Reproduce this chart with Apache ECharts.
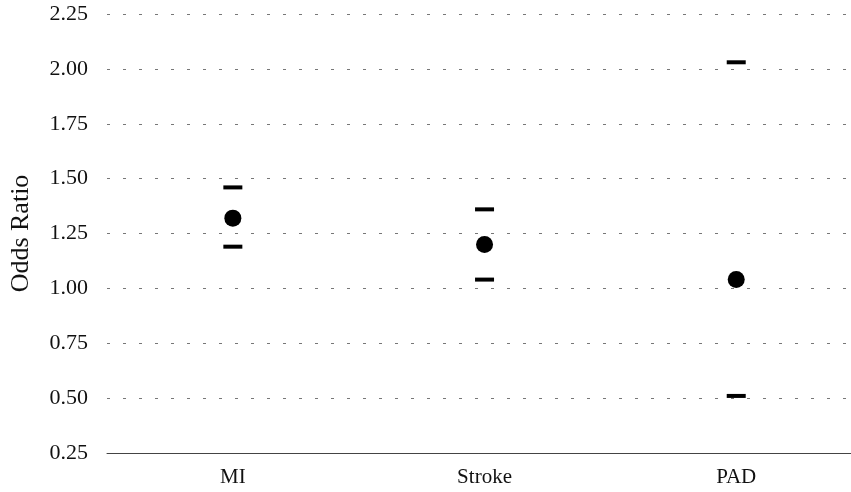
<!DOCTYPE html>
<html><head><meta charset="utf-8">
<script src="https://cdn.jsdelivr.net/npm/echarts@6/dist/echarts.min.js"></script>
<style>html,body{margin:0;padding:0;background:#fff}#c{width:851px;height:492px}</style>
</head><body><div id="c"></div>
<script>
const categories = ['MI', 'Stroke', 'PAD'];
const oddsRatio = [1.32, 1.20, 1.04];
const upperCI = [1.46, 1.36, 2.03];
const lowerCI = [1.19, 1.04, 0.51];
const yTicks = [0.25, 0.5, 0.75, 1.0, 1.25, 1.5, 1.75, 2.0, 2.25];

const font = '"Liberation Serif", "Times New Roman", serif';
const idx = categories.map((c, i) => i);
const chart = echarts.init(document.getElementById('c'), null, {renderer: 'canvas'});
chart.setOption({
  animation: false,
  backgroundColor: '#fff',
  grid: {left: 106, right: 0, top: 14, bottom: 39, containLabel: false},
  xAxis: {
    type: 'value',
    min: -0.5, max: 2.456,
    axisLine: {show: true, onZero: false, lineStyle: {color: '#444', width: 1}},
    axisTick: {show: false},
    splitLine: {show: false},
    axisLabel: {fontFamily: font, fontSize: 21, color: '#111', margin: 14,
      customValues: idx, formatter: v => categories[Math.round(v)] || ''}
  },
  yAxis: {
    type: 'value',
    min: yTicks[0], max: yTicks[yTicks.length - 1], interval: 0.25,
    name: 'Odds Ratio', nameLocation: 'middle', nameGap: 73,
    nameTextStyle: {fontFamily: font, fontSize: 26, color: '#111'},
    axisLine: {show: false},
    axisTick: {show: false},
    axisLabel: {fontFamily: font, fontSize: 22, color: '#111', margin: 19,
      formatter: v => v.toFixed(2)},
    splitLine: {show: true, lineStyle: {color: '#777', width: 1, type: [3, 13]}}
  },
  series: [
    {type: 'scatter', data: idx.map(i => [i, upperCI[i]]),
     symbol: 'rect', symbolSize: [19, 4], itemStyle: {color: '#000', opacity: 1}, z: 3},
    {type: 'scatter', data: idx.map(i => [i, lowerCI[i]]),
     symbol: 'rect', symbolSize: [19, 4], itemStyle: {color: '#000', opacity: 1}, z: 3},
    {type: 'scatter', data: idx.map(i => [i, oddsRatio[i]]),
     symbol: 'circle', symbolSize: 17, itemStyle: {color: '#000', opacity: 1}, z: 4}
  ]
});
</script></body></html>
